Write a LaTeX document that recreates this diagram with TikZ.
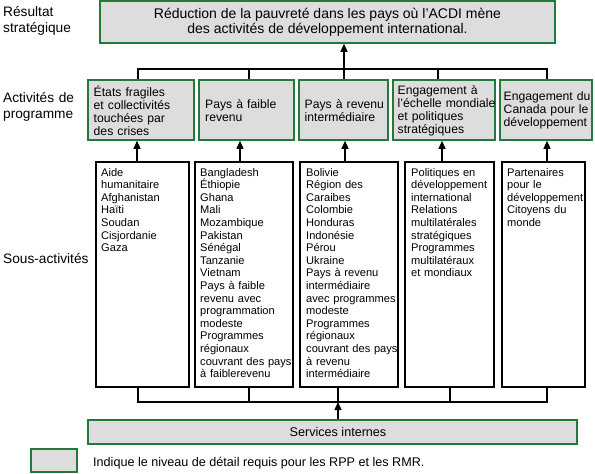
\documentclass[tikz,border=0pt]{standalone}
\usepackage{fontspec}
\setmainfont{Liberation Sans}
\usetikzlibrary{arrows.meta}
\definecolor{boxgray}{RGB}{221,221,221}
\definecolor{dkgreen}{RGB}{35,120,60}
\begin{document}
\begin{tikzpicture}[x=1pt,y=-1pt,
  ln/.style={line width=1.3pt},
  arr/.style={line width=1.3pt,-{Triangle[width=7pt,length=8pt]}},
  greenbox/.style={draw=dkgreen,fill=boxgray,line width=1.6pt},
  topbox/.style={greenbox,minimum width=455,minimum height=42,align=center,inner sep=0pt,font=\fontsize{14}{15}\selectfont},
  prog/.style={greenbox,minimum height=60,inner sep=0pt},
  progtxt/.style={anchor=west,inner sep=0pt,text width=120,align=left,font=\fontsize{12.2}{13}\selectfont},
  subbox/.style={draw=black,fill=white,line width=1.3pt,minimum height=225},
  subtxt/.style={anchor=base west,inner sep=0pt,text width=120,align=left,font=\fontsize{11.1}{12.6}\selectfont},
  lbl/.style={anchor=base west,inner sep=0pt,text width=120,align=left,font=\fontsize{13.7}{16.5}\selectfont},
  svcbox/.style={greenbox,minimum width=489,minimum height=24,inner sep=0pt},
  plain/.style={inner sep=0pt,font=\fontsize{12.6}{14}\selectfont}
]
\useasboundingbox (0,0) rectangle (595,474);

% left labels
\node[lbl] (l1) at (3,16) {Résultat\\stratégique};
\node[lbl] (l2) at (3,102) {Activités de\\programme};
\node[lbl] (l3) at (3,263) {Sous-activités};

% strategic result
\node[topbox] (res) at (327.5,22) {Réduction de la pauvreté dans les pays où l’ACDI mène\\des activités de développement international.};

% program activities
\node[prog,minimum width=106] (p1) at (141,110) {};
\node[prog,minimum width=95] (p2) at (246.5,110) {};
\node[prog,minimum width=89] (p3) at (343.5,110) {};
\node[prog,minimum width=102] (p4) at (444,110) {};
\node[prog,minimum width=92] (p5) at (546,110) {};
\node[progtxt] (p1t) at (93.5,110.5) {États fragiles\\et collectivités\\touchées par\\des crises};
\node[progtxt] (p2t) at (205,110.5) {Pays à faible\\revenu};
\node[progtxt] (p3t) at (304.5,110.5) {Pays à revenu\\intermédiaire};
\node[progtxt] (p4t) at (397.5,110.5) {Engagement à\\l’échelle mondiale\\et politiques\\stratégiques};
\node[progtxt] (p5t) at (503.5,110.5) {Engagement du\\Canada pour le\\développement};

% sub-activity boxes
\node[subbox,minimum width=93] (s1) at (142.5,274.5) {};
\node[subbox,minimum width=98] (s2) at (244,274.5) {};
\node[subbox,minimum width=98] (s3) at (349,274.5) {};
\node[subbox,minimum width=89] (s4) at (449.5,274.5) {};
\node[subbox,minimum width=83] (s5) at (543.5,274.5) {};

\node[subtxt] (s1t) at (101,176) {Aide\\humanitaire\\Afghanistan\\Haïti\\Soudan\\Cisjordanie\\Gaza};
\node[subtxt] (s2t) at (200,176) {Bangladesh\\Éthiopie\\Ghana\\Mali\\Mozambique\\Pakistan\\Sénégal\\Tanzanie\\Vietnam\\Pays à faible\\revenu avec\\programmation\\modeste\\Programmes\\régionaux\\couvrant des pays\\à faiblerevenu};
\node[subtxt] (s3t) at (306,176) {Bolivie\\Région des\\Caraibes\\Colombie\\Honduras\\Indonésie\\Pérou\\Ukraine\\Pays à revenu\\intermédiaire\\avec programmes\\modeste\\Programmes\\régionaux\\couvrant des pays\\à revenu\\intermédiaire};
\node[subtxt] (s4t) at (411,176) {Politiques en\\développement\\international\\Relations\\multilatérales\\stratégiques\\Programmes\\multilatéraux\\et mondiaux};
\node[subtxt] (s5t) at (507,176) {Partenaires\\pour le\\développement\\Citoyens du\\monde};

% internal services
\node[svcbox] (svc) at (332.5,432) {};
\node[plain] (svct) at (338,432) {Services internes};

% legend
\node[greenbox,minimum width=46,minimum height=23] (leg) at (54,460.5) {};
\node[plain,anchor=base west] (legt) at (93,466) {Indique le niveau de détail requis pour les RPP et les RMR.};

% column coordinates
\coordinate (tb) at (0,69);
\coordinate (bb) at (0,402);
\coordinate (t1) at (138,0);
\coordinate (t2) at (249,0);
\coordinate (t3) at (344,0);
\coordinate (t4) at (438,0);
\coordinate (t5) at (547,0);
\coordinate (m1) at (137,0);
\coordinate (m2) at (240,0);
\coordinate (m3) at (345,0);
\coordinate (m4) at (442,0);
\coordinate (m5) at (547,0);
\coordinate (b1) at (138,0);
\coordinate (b2) at (249,0);
\coordinate (b3) at (338,0);
\coordinate (b4) at (450,0);
\coordinate (b5) at (547,0);

% top bus
\draw[ln] (p1.north -| t1) |- (tb -| t5) -- (p5.north -| t5);
\draw[ln] (tb -| t2) -- (p2.north -| t2);
\draw[ln] (tb -| t4) -- (p4.north -| t4);
\draw[ln] (p3.north -| t3) -- (tb -| t3);
\draw[arr] (tb -| t3) -- (res.south -| t3);

% sub-activities to programs
\draw[arr] (s1.north -| m1) -- (p1.south -| m1);
\draw[arr] (s2.north -| m2) -- (p2.south -| m2);
\draw[arr] (s3.north -| m3) -- (p3.south -| m3);
\draw[arr] (s4.north -| m4) -- (p4.south -| m4);
\draw[arr] (s5.north -| m5) -- (p5.south -| m5);

% bottom bus
\draw[ln] (s1.south -| b1) |- (bb -| b5) -- (s5.south -| b5);
\draw[ln] (s2.south -| b2) -- (bb -| b2);
\draw[ln] (s3.south -| b3) -- (bb -| b3);
\draw[ln] (s4.south -| b4) -- (bb -| b4);
\draw[arr] (svc.north -| b3) -- (bb -| b3);
\end{tikzpicture}
\end{document}
